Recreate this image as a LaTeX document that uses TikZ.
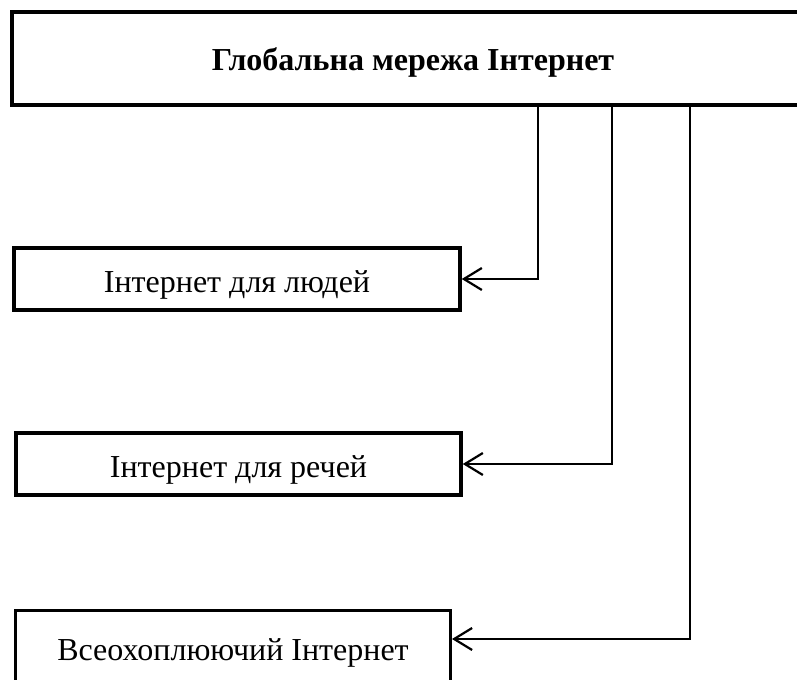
\documentclass[tikz,border=0pt]{standalone}
\usepackage{fontspec}
\setmainfont{Liberation Serif}
\usepackage{tikz}
\usetikzlibrary{arrows.meta}
\tikzstyle{mainbox} = [rectangle, minimum width=802bp, minimum height=93bp, inner sep=0pt,
    text height=25bp, text depth=0pt,
    text centered, draw=black, line width=4bp, font=\fontsize{32bp}{38bp}\selectfont\bfseries]
\tikzstyle{kind} = [rectangle, minimum height=62bp, inner sep=0pt,
    text height=26bp, text depth=0pt,
    text centered, draw=black, line width=3.5bp, font=\fontsize{32bp}{38bp}\selectfont]
\tikzstyle{arrow} = [line width=2bp, -{Straight Barb[length=18bp, width=22bp, line width=2.2bp]}]

\begin{document}
\begin{tikzpicture}[x=1bp, y=-1bp]
                \useasboundingbox (0,0) rectangle (797,680);
                \node (net) [mainbox] at (413,58.5) {Глобальна мережа Інтернет};
                \node (people) [kind, minimum width=446bp] at (237,279) {Інтернет для людей};
                \node (things) [kind, minimum width=445bp] at (238.5,464) {Інтернет для речей};
                \node (all) [kind, minimum width=434.5bp, minimum height=73bp] at (233,647) {Всеохоплюючий Інтернет};

                \draw [arrow] ([xshift=125bp]net.south) |- (people.east);
                \draw [arrow] ([xshift=199bp]net.south) |- (things.east);
                \draw [arrow] ([xshift=277bp]net.south) |- ([yshift=8bp]all.east);
            \end{tikzpicture}
\end{document}
